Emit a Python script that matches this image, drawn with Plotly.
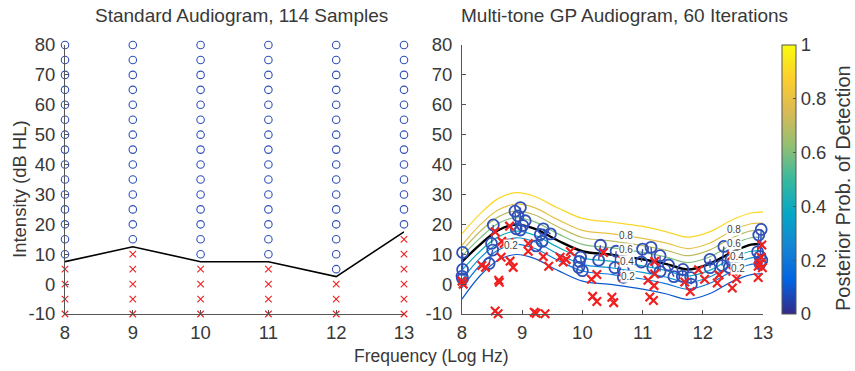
import plotly.graph_objects as go
from plotly.colors import sample_colorscale

W, H = 855, 371

# ---------------- Left panel data: standard audiogram ----------------
std_freqs = [8, 9, 10, 11, 12, 13]
std_levels = [-10, -5, 0, 5, 10, 15, 20, 25, 30, 35, 40, 45, 50, 55, 60, 65, 70, 75, 80]
std_lowest_heard = [10, 15, 10, 10, 5, 20]
std_threshold = [7.5, 12.5, 7.5, 7.5, 2.5, 17.5]

# ---------------- Right panel data: GP audiogram ----------------
det_x = [8.01, 8.01, 8.00, 8.01, 8.52, 8.49, 8.51, 8.45, 8.88, 8.97, 8.93, 8.90, 8.97, 9.05, 9.01,
         9.23, 9.30, 9.35, 9.33, 9.47, 9.97, 9.95, 9.94, 10.00, 10.30, 10.27, 10.56, 10.54, 10.68,
         10.68, 11.00, 10.98, 11.14, 11.17, 11.29, 11.29, 11.43, 11.52, 11.67, 11.66, 11.80, 11.81,
         12.12, 12.12, 12.35, 12.32, 12.44, 12.47, 12.97, 12.93, 12.91, 12.95, 12.98, 12.95]
det_y = [10.6, 4.9, 2.6, 1.8, 19.8, 13.6, 11.4, 6.9, 24.4, 25.6, 22.8, 18.5, 18.1, 21.2, 19.6,
         12.8, 16.6, 18.5, 14.3, 16.8, 9.0, 7.6, 5.6, 4.5, 13.0, 8.0, 11.0, 5.5, 4.6,
         2.3, 11.7, 7.4, 12.3, 5.5, 9.5, 4.2, 6.4, 2.5, 4.9, 2.6, 2.2, -0.1,
         8.3, 5.5, 12.6, 6.2, 5.6, 8.2, 18.3, 16.4, 10.8, 9.2, 8.0, 6.8]
link_a = [0, 4, 6, 8, 9, 10, 16, 17, 20, 24, 26, 28, 30, 32, 34, 36, 38, 40, 42, 44, 46, 48, 49]
link_b = [1, 5, 7, 11, 12, 13, 18, 19, 23, 25, 27, 29, 31, 33, 35, 37, 39, 41, 43, 45, 47, 53, 50]

miss_x = [8.00, 8.02, 8.33, 8.39, 8.55, 8.66, 8.70, 8.78, 8.79, 8.65, 8.80, 8.85, 8.61, 8.62,
          8.55, 8.60, 9.20, 9.23, 9.38, 9.10, 9.10, 9.35, 9.44, 9.63, 9.68, 9.73, 9.80,
          10.15, 10.24, 10.35, 10.17, 10.24, 10.49, 10.52, 10.67, 10.68, 11.09, 11.20, 11.19,
          11.20, 11.12, 11.18, 11.93, 12.03, 11.79, 11.70, 12.27, 12.24, 12.50, 12.56, 12.49,
          12.48, 12.92, 12.98, 12.97, 12.94, 12.92, 12.99]
miss_y = [1.0, 0.0, 6.2, 5.6, 17.5, 14.3, 13.6, 13.8, 19.4, 9.0, 7.7, 5.6, 1.3, 0.6,
          -9.0, -9.9, -9.4, -9.8, -9.9, 13.6, 11.0, 9.2, 6.0, 9.0, 7.4, 8.2, 10.9,
          1.6, 3.2, 10.6, -4.1, -5.8, -4.4, -6.2, 8.0, 2.1, 1.3, 3.4, -0.5,
          7.6, -4.3, -5.5, 4.8, 1.6, -2.5, 0.7, 3.1, 0.4, 4.3, 1.8, -1.3,
          9.5, 2.2, 13.1, 9.0, 7.0, 6.0, 5.5]

# contour lines of posterior probability (read at common frequencies)
cont_x = [8, 8.3, 8.6, 8.9, 9.2, 9.6, 10, 10.5, 11, 11.4, 11.75, 12.1, 12.5, 12.8, 13]
cont_levels = [0.1, 0.2, 0.3, 0.4, 0.6, 0.7, 0.8, 0.9]
cont_y = {
    0.1: [-5.0, 2.8, 8.0, 9.9, 8.6, 4.5, 1.0, -0.2, -1.7, -3.3, -5.1, -3.3, 1.0, 3.2, 3.4],
    0.2: [-1.2, 6.3, 11.4, 13.3, 12.0, 7.9, 4.4, 3.2, 1.7, 0.1, -1.7, 0.1, 4.4, 6.6, 6.8],
    0.3: [1.5, 8.7, 13.6, 15.5, 14.2, 10.1, 6.6, 5.4, 3.9, 2.3, 0.5, 2.3, 6.6, 8.8, 9.0],
    0.4: [4.7, 11.0, 15.8, 17.7, 16.4, 12.3, 8.8, 7.6, 6.1, 4.5, 2.7, 4.5, 8.8, 11.0, 11.2],
    0.6: [9.4, 15.4, 20.3, 22.2, 20.9, 16.8, 13.3, 12.1, 10.6, 9.0, 7.2, 9.0, 13.3, 15.5, 15.7],
    0.7: [11.2, 17.6, 22.5, 24.5, 23.2, 19.1, 15.6, 14.4, 12.9, 11.3, 9.5, 11.3, 15.6, 17.8, 18.0],
    0.8: [13.0, 19.8, 24.8, 26.8, 25.6, 21.5, 18.0, 16.8, 15.3, 13.7, 11.9, 13.6, 18.0, 20.2, 20.4],
    0.9: [16.9, 23.5, 28.6, 30.6, 29.4, 25.4, 22.0, 20.7, 19.3, 17.5, 15.7, 17.4, 21.6, 23.8, 24.2],
}
thresh_y = [7.5, 13.2, 18.0, 19.9, 18.6, 14.5, 11.0, 9.8, 8.3, 6.7, 4.9, 6.7, 10.8, 13.2, 13.4]

label_text = ["0.8", "0.6", "0.4", "0.2", "0.8", "0.6", "0.4", "0.2", "0.2"]
label_x = [10.72, 10.72, 10.74, 10.76, 12.52, 12.52, 12.56, 12.58, 8.82]
label_y = [16.1, 11.6, 7.4, 2.6, 18.3, 13.7, 9.2, 5.2, 13.0]

parula = [[0.0, '#352a87'], [0.125, '#0363e1'], [0.25, '#1485d4'], [0.375, '#06a7c6'],
          [0.5, '#38b99e'], [0.625, '#92bf73'], [0.75, '#d9ba56'], [0.875, '#fcce2e'],
          [1.0, '#f9fb0e']]

FONT = "Liberation Sans, Arial, Helvetica, sans-serif"
TXT = "#383838"
AX = "#555555"
BLUE = "#3050b8"
RED = "#f02020"
TICK_SIZE = 18.5

def px(x):
    return x / W

def py(y):
    return 1 - y / H

fig = go.Figure()

# ---- left panel traces ----
cx, cy, mx, my = [], [], [], []
for f, low in zip(std_freqs, std_lowest_heard):
    for lv in std_levels:
        if lv >= low:
            cx.append(f); cy.append(lv)
        else:
            mx.append(f); my.append(lv)

fig.add_trace(go.Scatter(x=std_freqs, y=std_threshold, mode="lines",
                         line=dict(color="black", width=1.6), xaxis="x", yaxis="y",
                         showlegend=False, hoverinfo="skip"))
fig.add_trace(go.Scatter(x=cx, y=cy, mode="markers", xaxis="x", yaxis="y", cliponaxis=False,
                         marker=dict(symbol="circle-open", size=7.5, color=BLUE, line=dict(width=1.1)),
                         showlegend=False))
fig.add_trace(go.Scatter(x=mx, y=my, mode="markers", xaxis="x", yaxis="y", cliponaxis=False,
                         marker=dict(symbol="x-thin-open", size=6.5, color=RED, line=dict(width=1.1, color=RED)),
                         showlegend=False))

# ---- right panel traces ----
line_cols = sample_colorscale(parula, cont_levels)
for lev, col in zip(cont_levels, line_cols):
    fig.add_trace(go.Scatter(x=cont_x, y=cont_y[lev], mode="lines", xaxis="x2", yaxis="y2",
                             line=dict(color=col, width=1.2, shape="spline", smoothing=1.0),
                             showlegend=False, hoverinfo="skip"))
fig.add_trace(go.Scatter(x=cont_x, y=thresh_y, mode="lines", xaxis="x2", yaxis="y2",
                         line=dict(color="black", width=2.4, shape="spline", smoothing=1.0),
                         showlegend=False, hoverinfo="skip"))

lx, ly = [], []
for a, b in zip(link_a, link_b):
    lx += [det_x[a], det_x[b], None]
    ly += [det_y[a], det_y[b], None]
fig.add_trace(go.Scatter(x=lx, y=ly, mode="lines", xaxis="x2", yaxis="y2",
                         line=dict(color=BLUE, width=1.4), showlegend=False, hoverinfo="skip"))
fig.add_trace(go.Scatter(x=det_x, y=det_y, mode="markers", xaxis="x2", yaxis="y2", cliponaxis=False,
                         marker=dict(symbol="circle-open", size=11, color=BLUE, line=dict(width=1.8)),
                         showlegend=False))
fig.add_trace(go.Scatter(x=miss_x, y=miss_y, mode="markers", xaxis="x2", yaxis="y2", cliponaxis=False,
                         marker=dict(symbol="x-thin-open", size=8.5, color=RED, line=dict(width=2.2, color=RED)),
                         showlegend=False))

# colorbar carrier (points lie outside the visible range)
fig.add_trace(go.Scatter(x=[8, 8], y=[-200, -200], mode="markers", xaxis="x2", yaxis="y2",
                         marker=dict(color=[0, 1], cmin=0, cmax=1, colorscale=parula, showscale=True,
                                     colorbar=dict(x=px(782), xanchor="left", xref="paper",
                                                   y=py(179.5), yanchor="middle", yref="paper",
                                                   len=269 / H, lenmode="fraction", thickness=14,
                                                   outlinecolor=AX, outlinewidth=1,
                                                   tickvals=[0, 0.2, 0.4, 0.6, 0.8, 1],
                                                   ticktext=["0", "0.2", "0.4", "0.6", "0.8", "1"],
                                                   ticks="inside", ticklen=3, tickcolor=AX,
                                                   tickfont=dict(family=FONT, size=TICK_SIZE, color=TXT),
                                                   ypad=0, xpad=0)),
                         showlegend=False, hoverinfo="skip"))

ytick = [-10, 0, 10, 20, 30, 40, 50, 60, 70, 80]
xtick = [8, 9, 10, 11, 12, 13]
common_x = dict(range=[8, 13], tickvals=xtick, ticktext=[str(v) for v in xtick],
                showline=True, linecolor=AX, linewidth=1, ticks="inside", ticklen=4, tickcolor=AX,
                showgrid=False, zeroline=False, tickfont=dict(family=FONT, size=TICK_SIZE, color=TXT),
                fixedrange=True, ticklabelstandoff=2, automargin=False)
common_y = dict(range=[-10, 80], tickvals=ytick, ticktext=[str(v) for v in ytick],
                showline=True, linecolor=AX, linewidth=1, ticks="inside", ticklen=4, tickcolor=AX,
                showgrid=False, zeroline=False, tickfont=dict(family=FONT, size=TICK_SIZE, color=TXT),
                fixedrange=True, ticklabelstandoff=5, automargin=False)

fig.update_layout(
    width=W, height=H, margin=dict(l=0, r=0, t=0, b=0, pad=0, autoexpand=False),
    paper_bgcolor="white", plot_bgcolor="white",
    xaxis=dict(domain=[px(65), px(404)], anchor="y", **common_x),
    yaxis=dict(domain=[py(314), py(45)], anchor="x", **common_y),
    xaxis2=dict(domain=[px(462), px(763)], anchor="y2", **common_x),
    yaxis2=dict(domain=[py(314), py(45)], anchor="x2", **common_y),
    showlegend=False,
)

ann = [
    dict(text="Standard Audiogram, 114 Samples", x=px(241), y=py(15), size=19, angle=0),
    dict(text="Multi-tone GP Audiogram, 60 Iterations", x=px(624), y=py(16), size=19, angle=0),
    dict(text="Intensity (dB HL)", x=px(19), y=py(189), size=18.5, angle=-90),
    dict(text="Frequency (Log Hz)", x=px(431), y=py(356), size=17.5, angle=0),
    dict(text="Posterior Prob. of Detection", x=px(843), y=py(188), size=20, angle=-90),
]
for a in ann:
    fig.add_annotation(text=a["text"], x=a["x"], y=a["y"], xref="paper", yref="paper",
                       xanchor="center", yanchor="middle", showarrow=False, textangle=a["angle"],
                       font=dict(family=FONT, size=a["size"], color=TXT))

for t, x, y in zip(label_text, label_x, label_y):
    fig.add_annotation(text=t, x=x, y=y, xref="x2", yref="y2", showarrow=False,
                       font=dict(family=FONT, size=10, color="#444444"),
                       bgcolor="white", borderpad=0)

fig.write_html("out.html", config={"displayModeBar": False},
               post_script="document.body.style.margin='0px';")
